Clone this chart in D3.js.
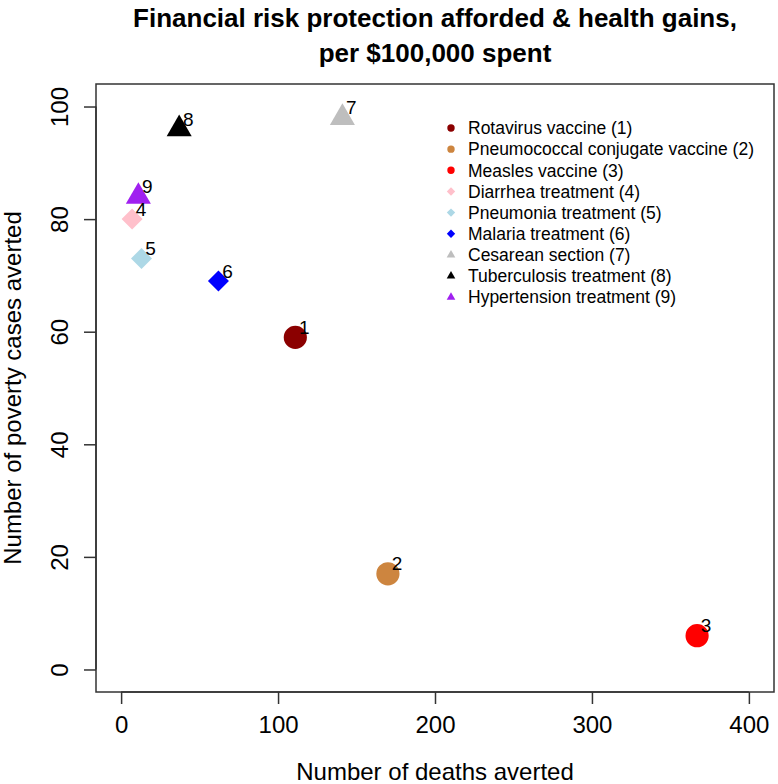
<!DOCTYPE html>
<html>
<head>
<meta charset="utf-8">
<script src="https://cdn.jsdelivr.net/npm/d3@7"></script>
<style>
  html, body { margin: 0; padding: 0; background: #fff; }
  svg { display: block; font-family: "Liberation Sans", Arial, Helvetica, sans-serif; }
</style>
</head>
<body>
<svg id="chart" width="778" height="784"></svg>
<script>
// ---- Data ----
const interventions = [
  "Rotavirus vaccine (1)",
  "Pneumococcal conjugate vaccine (2)",
  "Measles vaccine (3)",
  "Diarrhea treatment (4)",
  "Pneumonia treatment (5)",
  "Malaria treatment (6)",
  "Cesarean section (7)",
  "Tuberculosis treatment (8)",
  "Hypertension treatment (9)"
];
const pointLabels = ["1", "2", "3", "4", "5", "6", "7", "8", "9"];
const deathsAverted = [111, 170, 367, 7, 13, 62, 141, 37, 11];
const povertyAverted = [59, 17, 6, 80, 73, 69, 98, 96, 84];
const markerShapes = ["circle", "circle", "circle", "diamond", "diamond", "diamond", "triangle", "triangle", "triangle"];
const markerColors = ["#8B0000", "#CD853F", "#FF0000", "#FFC0CB", "#ADD8E6", "#0000FF", "#BEBEBE", "#000000", "#A020F0"];
const xTicks = [0, 100, 200, 300, 400];
const yTicks = [0, 20, 40, 60, 80, 100];
const titleLines = ["Financial risk protection afforded & health gains,", "per $100,000 spent"];
const xLabel = "Number of deaths averted";
const yLabel = "Number of poverty cases averted";

// ---- Layout ----
const box = { left: 96, right: 774, top: 84, bottom: 692 };
const svg = d3.select("#chart");

const x = d3.scaleLinear().domain([-16, 416]).range([box.left, box.right]);
const y = d3.scaleLinear().domain([-4, 104]).range([box.bottom, box.top]);

// custom R-like symbol types (size = scale unit in px)
const symCircle = { draw(ctx, s) { ctx.moveTo(s, 0); ctx.arc(0, 0, s, 0, 2 * Math.PI); } };
const symDiamond = { draw(ctx, s) { ctx.moveTo(0, -s); ctx.lineTo(s, 0); ctx.lineTo(0, s); ctx.lineTo(-s, 0); ctx.closePath(); } };
const symTriangle = { draw(ctx, s) {
  const r = 1.5551 * s, xc = 1.3468 * s, yc = 0.7776 * s;
  ctx.moveTo(0, -r); ctx.lineTo(xc, yc); ctx.lineTo(-xc, yc); ctx.closePath(); } };
const shapeType = { circle: symCircle, diamond: symDiamond, triangle: symTriangle };
const bigSize = { circle: 11.6, diamond: 10.5, triangle: 9.3 };
const smallSize = { circle: 3.7, diamond: 4.2, triangle: 3.2 };

// ---- Box ----
svg.append("rect")
  .attr("x", box.left).attr("y", box.top)
  .attr("width", box.right - box.left).attr("height", box.bottom - box.top)
  .attr("fill", "none").attr("stroke", "#333").attr("stroke-width", 1.5);

// ---- Axes ----
const xAxis = d3.axisBottom(x).tickValues(xTicks).tickSize(12).tickPadding(12).tickFormat(d3.format("d"));
const gx = svg.append("g").attr("transform", `translate(0,${box.bottom})`).call(xAxis);
gx.select(".domain").attr("d", `M${x(xTicks[0])},0H${x(xTicks[xTicks.length - 1])}`).attr("stroke", "#333").attr("stroke-width", 1.5);
gx.selectAll(".tick line").attr("stroke", "#333").attr("stroke-width", 1.5);
gx.selectAll(".tick text").attr("font-family", "Liberation Sans, Arial, sans-serif").attr("font-size", 24).attr("fill", "#000");

const yAxis = d3.axisLeft(y).tickValues(yTicks).tickSize(12).tickFormat(d3.format("d"));
const gy = svg.append("g").attr("transform", `translate(${box.left},0)`).call(yAxis);
gy.select(".domain").attr("d", `M0,${y(yTicks[0])}V${y(yTicks[yTicks.length - 1])}`).attr("stroke", "#333").attr("stroke-width", 1.5);
gy.selectAll(".tick line").attr("stroke", "#333").attr("stroke-width", 1.5);
gy.selectAll(".tick text")
  .attr("font-family", "Liberation Sans, Arial, sans-serif").attr("font-size", 24).attr("fill", "#000")
  .attr("x", null).attr("dy", null)
  .attr("text-anchor", "middle")
  .attr("transform", "translate(-28,0) rotate(-90)");

// ---- Axis titles ----
svg.append("text")
  .attr("x", (box.left + box.right) / 2).attr("y", 780)
  .attr("text-anchor", "middle").attr("font-size", 24).attr("fill", "#000")
  .text(xLabel);
svg.append("text")
  .attr("transform", `translate(21,${(box.top + box.bottom) / 2}) rotate(-90)`)
  .attr("text-anchor", "middle").attr("font-size", 24).attr("fill", "#000")
  .text(yLabel);

// ---- Title ----
svg.append("text")
  .attr("x", (box.left + box.right) / 2).attr("y", 27)
  .attr("text-anchor", "middle").attr("font-size", 26).attr("font-weight", "bold").attr("fill", "#000")
  .text(titleLines[0]);
svg.append("text")
  .attr("x", (box.left + box.right) / 2).attr("y", 62)
  .attr("text-anchor", "middle").attr("font-size", 26).attr("font-weight", "bold").attr("fill", "#000")
  .text(titleLines[1]);

// ---- Points ----
const idx = d3.range(deathsAverted.length);
svg.append("g").selectAll("path").data(idx).join("path")
  .attr("transform", i => `translate(${x(deathsAverted[i])},${y(povertyAverted[i])})`)
  .attr("d", i => d3.symbol().type(shapeType[markerShapes[i]]).size(bigSize[markerShapes[i]])())
  .attr("fill", i => markerColors[i]);

svg.append("g").selectAll("text").data(idx).join("text")
  .attr("x", i => x(deathsAverted[i]) + 9)
  .attr("y", i => y(povertyAverted[i]) - 3.5)
  .attr("text-anchor", "middle").attr("font-size", 19).attr("fill", "#000")
  .text(i => pointLabels[i]);

// ---- Legend ----
const legend = svg.append("g");
const legY0 = 128, legStep = 21.15, legMarkX = 451, legTextX = 468;
legend.selectAll("path").data(idx).join("path")
  .attr("transform", i => `translate(${legMarkX},${legY0 + i * legStep})`)
  .attr("d", i => d3.symbol().type(shapeType[markerShapes[i]]).size(smallSize[markerShapes[i]])())
  .attr("fill", i => markerColors[i]);
legend.selectAll("text").data(idx).join("text")
  .attr("x", legTextX).attr("y", i => legY0 + i * legStep + 6.2)
  .attr("font-size", 17.5).attr("fill", "#000")
  .text(i => interventions[i]);
</script>
</body>
</html>
